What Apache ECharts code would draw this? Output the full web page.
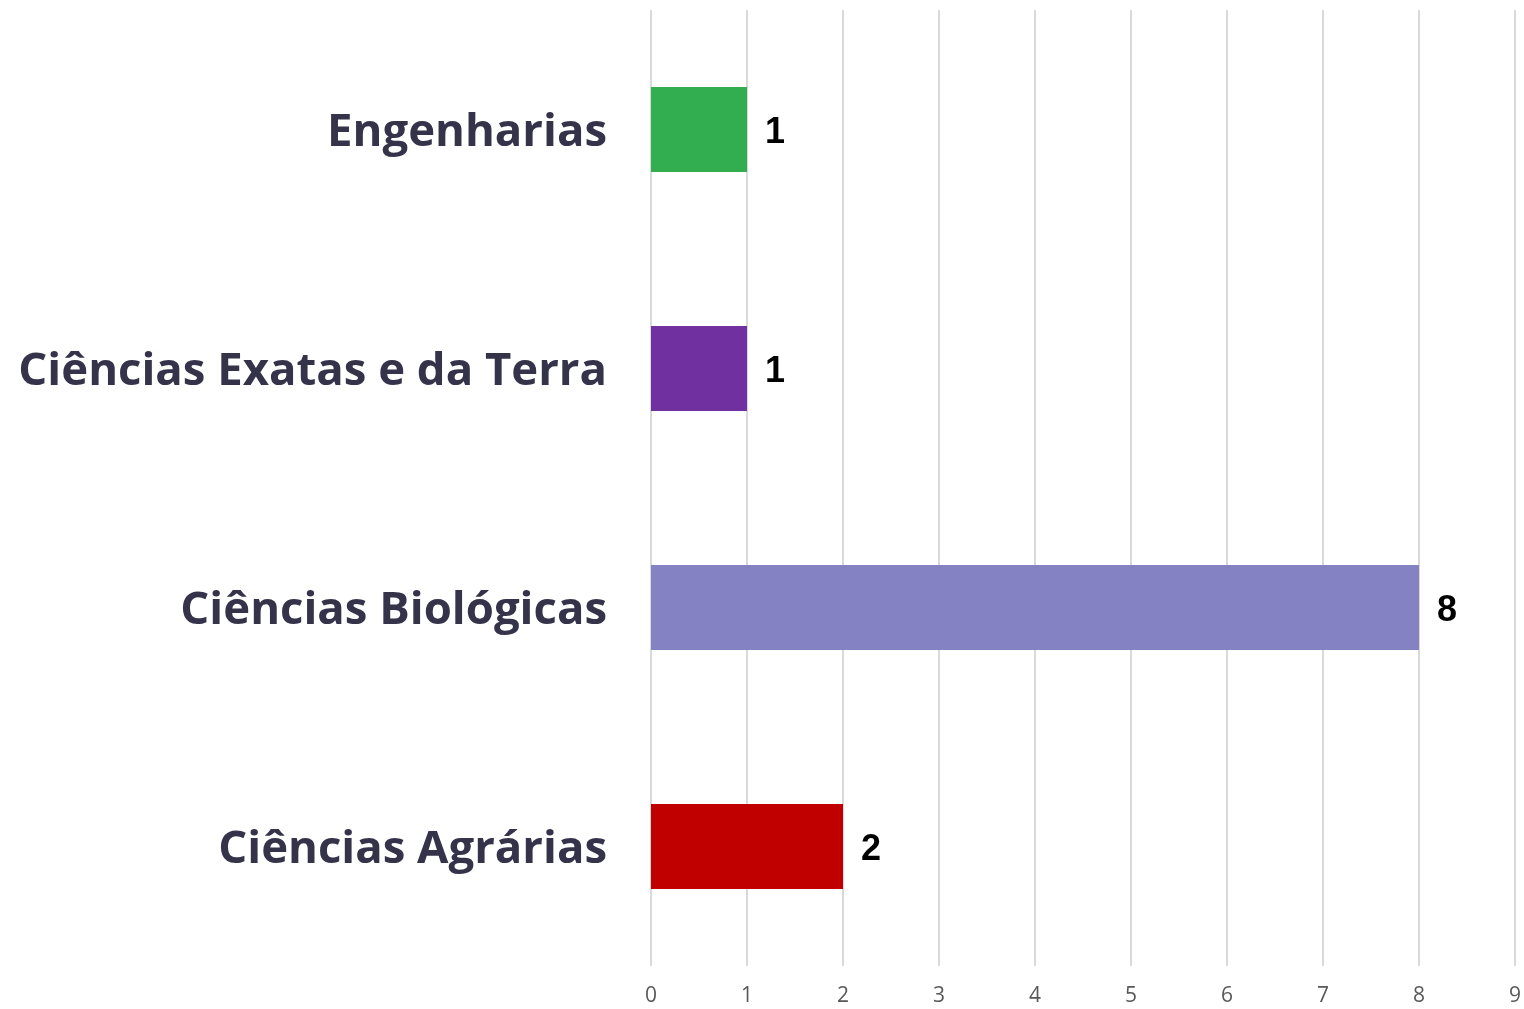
<!DOCTYPE html>
<html><head><meta charset="utf-8">
<script src="https://cdn.jsdelivr.net/npm/echarts@6/dist/echarts.min.js"></script>
<style>html,body{margin:0;padding:0;background:#fff}#c{width:1524px;height:1009px}</style>
</head><body><div id="c"></div>
<script>
const categories = ["Ciências Agrárias", "Ciências Biológicas", "Ciências Exatas e da Terra", "Engenharias"];
const values = [2, 8, 1, 1];
const colors = ["#C00000", "#8482C3", "#7030A0", "#32AE50"];
const xTicks = [0, 1, 2, 3, 4, 5, 6, 7, 8, 9];

const chart = echarts.init(document.getElementById('c'), null, {renderer: 'canvas'});
chart.setOption({
  animation: false,
  grid: {left: 651, right: 3, top: 10, bottom: 43, containLabel: false},
  xAxis: {
    type: 'value', min: xTicks[0], max: xTicks[xTicks.length - 1], interval: 1,
    axisLine: {show: false}, axisTick: {show: false},
    splitLine: {show: true, lineStyle: {color: '#d9d9d9', width: 2}},
    axisLabel: {color: '#595959', fontSize: 21, fontFamily: 'Open Sans', margin: 20}
  },
  yAxis: {
    type: 'category', data: categories,
    axisLine: {show: false}, axisTick: {show: false},
    axisLabel: {
      margin: 44,
      formatter: v => '{a|' + v + '}',
      rich: {a: {color: '#35334a', fontSize: 45.5, fontWeight: 'bold', fontFamily: 'Open Sans', padding: [8, 0, 0, 0]}}
    }
  },
  series: [{
    type: 'bar', barWidth: 85,
    data: values.map((v, i) => ({value: v, itemStyle: {color: colors[i]}})),
    label: {show: true, position: 'right', distance: 18, formatter: p => '{b|' + p.value + '}',
      rich: {b: {color: '#000', fontSize: 36, fontWeight: 'bold', fontFamily: 'Liberation Sans', padding: [8, 0, 0, 0]}}}
  }]
});
</script></body></html>
